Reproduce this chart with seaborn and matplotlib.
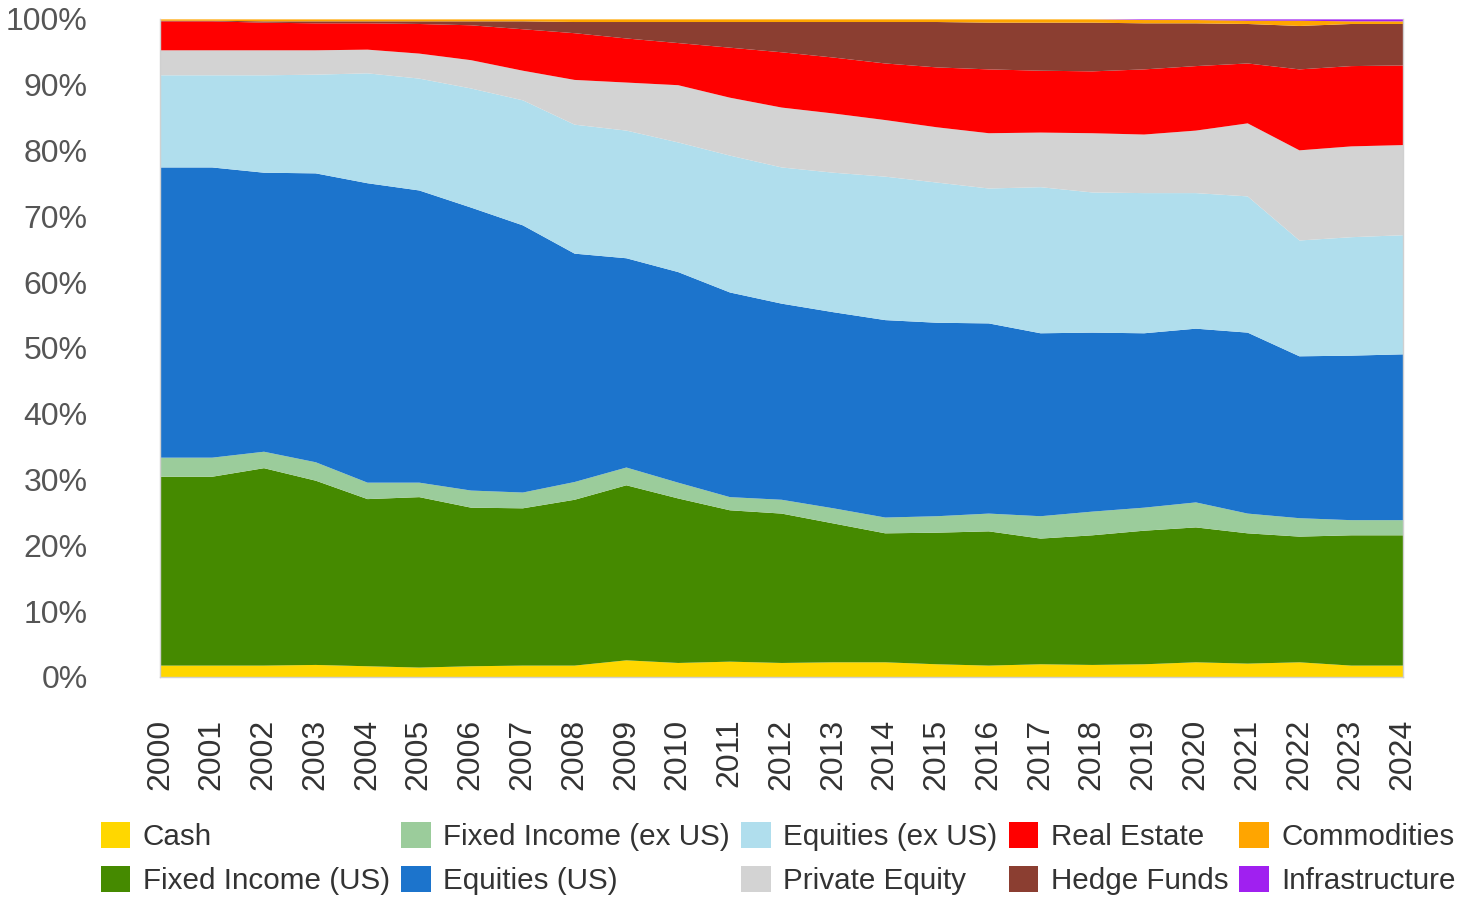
import numpy as np
import pandas as pd
import seaborn as sns
import matplotlib
matplotlib.use("Agg")
import matplotlib.pyplot as plt

years = list(range(2000, 2025))

cash = [1.8, 1.8, 1.8, 1.9, 1.7, 1.5, 1.7, 1.8, 1.8, 2.6, 2.2, 2.4, 2.2,
        2.3, 2.3, 2.0, 1.8, 2.0, 1.9, 2.0, 2.3, 2.1, 2.3, 1.8, 1.8]
fixed_us = [28.7, 28.7, 30.0, 28.0, 25.4, 25.9, 24.1, 23.9, 25.2, 26.6, 25.0, 23.0, 22.7,
            21.1, 19.6, 20.0, 20.4, 19.1, 19.7, 20.3, 20.5, 19.8, 19.1, 19.8, 19.8]
fixed_ex = [2.9, 2.9, 2.5, 2.8, 2.5, 2.2, 2.6, 2.4, 2.7, 2.7, 2.4, 2.0, 2.1,
            2.3, 2.4, 2.5, 2.7, 3.4, 3.6, 3.5, 3.8, 3.0, 2.8, 2.3, 2.3]
equity_us = [44.1, 44.1, 42.4, 43.9, 45.5, 44.4, 43.0, 40.6, 34.7, 31.8, 32.0, 31.1, 29.8,
             29.8, 30.0, 29.4, 28.9, 27.8, 27.2, 26.5, 26.4, 27.5, 24.6, 25.0, 25.2]
equity_ex = [14.0, 14.0, 14.8, 15.0, 16.7, 17.0, 18.1, 19.0, 19.6, 19.4, 19.7, 20.8, 20.7,
             21.2, 21.8, 21.3, 20.5, 22.2, 21.3, 21.3, 20.6, 20.7, 17.6, 18.0, 18.1]
private_eq = [3.8, 3.8, 3.8, 3.7, 3.6, 3.8, 4.3, 4.5, 6.8, 7.3, 8.7, 8.8, 9.1,
              9.0, 8.6, 8.4, 8.4, 8.3, 9.0, 8.9, 9.5, 11.1, 13.7, 13.8, 13.7]
real_estate = [4.4, 4.4, 4.2, 4.1, 4.0, 4.5, 5.3, 6.3, 7.1, 6.7, 6.4, 7.6, 8.4,
               8.5, 8.6, 9.1, 9.7, 9.4, 9.4, 9.9, 9.8, 9.1, 12.3, 12.2, 12.1]
hedge = [0.1, 0.1, 0.2, 0.3, 0.3, 0.4, 0.6, 1.2, 1.7, 2.5, 3.2, 3.9, 4.6,
         5.4, 6.3, 6.9, 7.1, 7.3, 7.4, 7.0, 6.5, 6.0, 6.6, 6.4, 6.3]
commod = [0.2, 0.2, 0.3, 0.3, 0.3, 0.3, 0.3, 0.3, 0.4, 0.4, 0.4, 0.4, 0.4,
          0.4, 0.4, 0.4, 0.5, 0.5, 0.5, 0.5, 0.5, 0.5, 0.8, 0.4, 0.4]
infra = [0, 0, 0, 0, 0, 0, 0, 0, 0, 0, 0, 0, 0,
         0, 0, 0, 0, 0, 0, 0.1, 0.1, 0.2, 0.2, 0.3, 0.3]

labels = ["Cash", "Fixed Income (US)", "Fixed Income (ex US)", "Equities (US)",
          "Equities (ex US)", "Private Equity", "Real Estate", "Hedge Funds",
          "Commodities", "Infrastructure"]
colors = ["#ffd700", "#458a00", "#9bcc9b", "#1c74cc", "#b0deed",
          "#d3d3d3", "#ff0000", "#8b3e31", "#ffa500", "#a020f0"]

df = pd.DataFrame(dict(zip(labels, [cash, fixed_us, fixed_ex, equity_us, equity_ex,
                                    private_eq, real_estate, hedge, commod, infra])),
                  index=years)
share = df.div(df.sum(axis=1), axis=0) * 100

sns.set_style("white")
plt.rcParams["font.family"] = ["Liberation Sans", "DejaVu Sans"]

fig = plt.figure(figsize=(14.81, 8.99), dpi=100)
ax = fig.add_axes([0.108, 0.247, 0.839, 0.732])

ax.stackplot(share.index, [share[c] for c in labels], labels=labels,
             colors=colors, linewidth=0)

ax.set_xlim(2000, 2024)
ax.set_ylim(0, 100)
ax.set_xticks(years)
ax.set_xticklabels([str(y) for y in years], rotation=90, fontsize=23, color="#333333")
ax.set_yticks(range(0, 101, 10))
ax.set_yticklabels([f"{v}%" for v in range(0, 101, 10)], fontsize=23, color="#555555")
ax.tick_params(axis="y", length=0, pad=52)
ax.tick_params(axis="x", length=0, pad=30)
for s in ax.spines.values():
    s.set_color("#d0d0d0")
    s.set_linewidth(1)
ax.spines["top"].set_visible(False)

leg = fig.legend(*ax.get_legend_handles_labels(), loc="lower left",
                 bbox_to_anchor=(0.054, -0.019), ncol=5, frameon=False,
                 fontsize=21.3, handlelength=1.0, handleheight=1.0,
                 handletextpad=0.42, columnspacing=0.38, labelspacing=0.5,
                 borderaxespad=0.3)
for t in leg.get_texts():
    t.set_color("#333333")

fig.savefig("out.png", dpi=100)
